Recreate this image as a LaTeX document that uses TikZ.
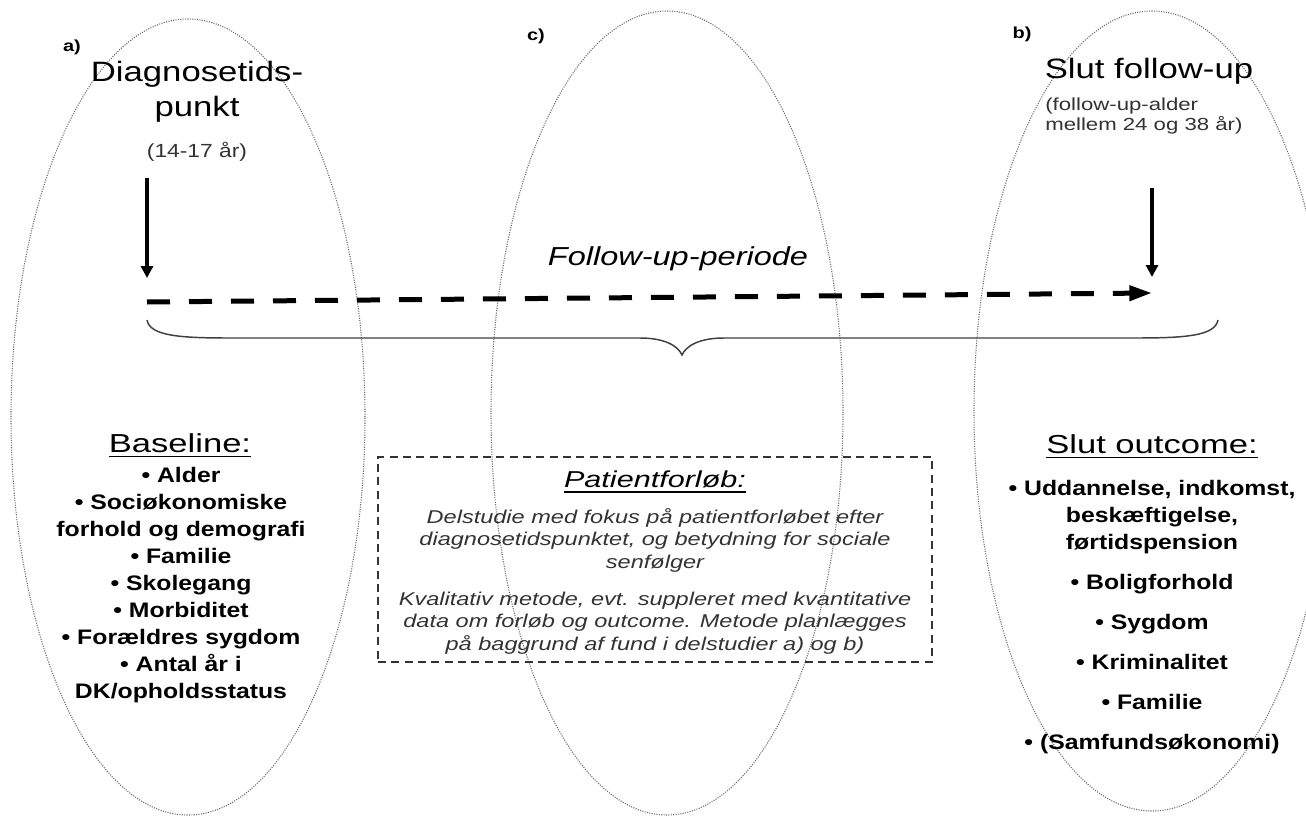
\documentclass[tikz,border=0pt]{standalone}
\usepackage{fontspec}
\setmainfont{Liberation Sans}
\usepackage{graphicx}
\usetikzlibrary{arrows.meta,shapes.geometric}
\definecolor{dgray}{HTML}{333333}
\definecolor{egray}{HTML}{6A6A6A}
\newcommand\hsc[2]{\scalebox{#1}[1]{#2}}
\newcommand\uline[1]{\vtop{\hbox{#1}\kern3pt\hrule height 0.9pt}}
\begin{document}
\begin{tikzpicture}[x=0.75pt,y=-0.75pt,
  ell/.style={draw=egray, densely dotted, line width=0.8pt, ellipse, inner sep=0pt},
  txt/.style={inner sep=0pt, anchor=base, align=center},
  lab/.style={inner sep=0pt, font=\fontsize{12pt}{14pt}\selectfont\bfseries},
  head/.style={txt, font=\fontsize{19.5pt}{22pt}\selectfont},
  items/.style={txt, font=\fontsize{15.75pt}{20.25pt}\selectfont\bfseries},
  varrow/.style={line width=3pt, -{Triangle[length=9pt,width=9pt]}},
  darrow/.style={line width=3.75pt, dash pattern=on 17.25pt off 14.25pt, -{Triangle[length=17pt,width=11pt]}},
  bracestyle/.style={line width=1.1pt, draw=black!75},
  boxstyle/.style={draw=dgray, line width=1.5pt, dash pattern=on 6pt off 4pt, inner sep=0pt}]
\useasboundingbox (0,0) rectangle (1306,817);
\clip (0,0) rectangle (1306,817);
\fill[white] (0,0) rectangle (1306,817);

% ellipses
\node[ell, minimum width=265.5pt, minimum height=597pt] (ea) at (188,417) {};
\node[ell, minimum width=264pt, minimum height=603pt] (ec) at (667,413) {};
\node[ell, minimum width=267pt, minimum height=600pt] (eb) at (1152,411) {};

% labels
\node[lab] (la) at (72,47) {\hsc{1.25}{a)}};
\node[lab] (lc) at (536,36) {\hsc{1.25}{c)}};
\node[lab] (lb) at (1022,34) {\hsc{1.25}{b)}};

% top texts
\node[txt, font=\fontsize{21pt}{26.25pt}\selectfont] (diag) at (197,82)
  {\hsc{1.24}{\begin{tabular}[t]{@{}c@{}}Diagnosetids-\\punkt\end{tabular}}};
\node[txt, text=dgray, font=\fontsize{14.25pt}{17pt}\selectfont] (age) at (197,157)
  {\hsc{1.2}{(14-17 år)}};
\node[txt, font=\fontsize{21pt}{26.25pt}\selectfont] (slut) at (1149,79)
  {\hsc{1.24}{Slut follow-up}};
\node[inner sep=0pt, anchor=base west, text=dgray, font=\fontsize{13.1pt}{15pt}\selectfont] (fage) at (1045,110)
  {\hsc{1.27}{\begin{tabular}[t]{@{}l@{}}(follow-up-alder\\mellem 24 og 38 år)\end{tabular}}};
\node[txt, font=\fontsize{19.5pt}{22pt}\selectfont\itshape] (fup) at (678,265)
  {\hsc{1.25}{Follow-up-periode}};

% arrows
\coordinate (la1) at (147,178);
\coordinate (la2) at (147,278);
\coordinate (lb1) at (1152,188);
\coordinate (lb2) at (1152,277);
\draw[varrow] (la1) -- (la2);
\draw[varrow] (lb1) -- (lb2);
\coordinate (ds) at (147,302);
\coordinate (de) at (1152,293);
\draw[darrow] (ds) -- (de);

% brace
\coordinate (bl) at (147,320);
\coordinate (bm) at (682,355);
\coordinate (br) at (1218,320);
\draw[bracestyle] (bl) .. controls (150,336) and (180,338) .. (230,338) -- (640,338)
  .. controls (665,338) and (678,346) .. (bm)
  .. controls (686,346) and (699,338) .. (724,338) -- (1135,338)
  .. controls (1185,338) and (1215,336) .. (br);

% baseline block
\node[head] (bh) at (180,452) {\hsc{1.33}{\uline{Baseline:}}};
\node[items] (bi) at (181,482) {\hsc{1.18}{\begin{tabular}[t]{@{}c@{}}• Alder\\• Sociøkonomiske\\forhold og demografi\\• Familie\\• Skolegang\\• Morbiditet\\• Forældres sygdom\\• Antal år i\\DK/opholdsstatus\end{tabular}}};

% outcome block
\node[head] (oh) at (1152,453) {\hsc{1.33}{\uline{Slut outcome:}}};
\node[items] (oi) at (1152,495) {\hsc{1.18}{\begin{tabular}[t]{@{}c@{}}• Uddannelse, indkomst,\\beskæftigelse,\\førtidspension\\[9.75pt]• Boligforhold\\[9.75pt]• Sygdom\\[9.75pt]• Kriminalitet\\[9.75pt]• Familie\\[9.75pt]• (Samfundsøkonomi)\end{tabular}}};

% patient box
\node[boxstyle, minimum width=415.5pt, minimum height=153.75pt] (box) at (655,559.5) {};
\node[txt, font=\fontsize{17.25pt}{20pt}\selectfont\itshape] (ph) at (655,487) {\hsc{1.33}{\uline{Patientforløb:}}};
\node[txt, text=dgray, font=\fontsize{13.9pt}{16.9pt}\selectfont\itshape] (pt) at (655,523)
  {\hsc{1.27}{\begin{tabular}[t]{@{}c@{}}Delstudie med fokus på patientforløbet efter\\diagnosetidspunktet, og betydning for sociale\\senfølger\\[10.9pt]Kvalitativ metode, evt. suppleret med kvantitative\\data om forløb og outcome. Metode planlægges\\på baggrund af fund i delstudier a) og b)\end{tabular}}};
\end{tikzpicture}
\end{document}
